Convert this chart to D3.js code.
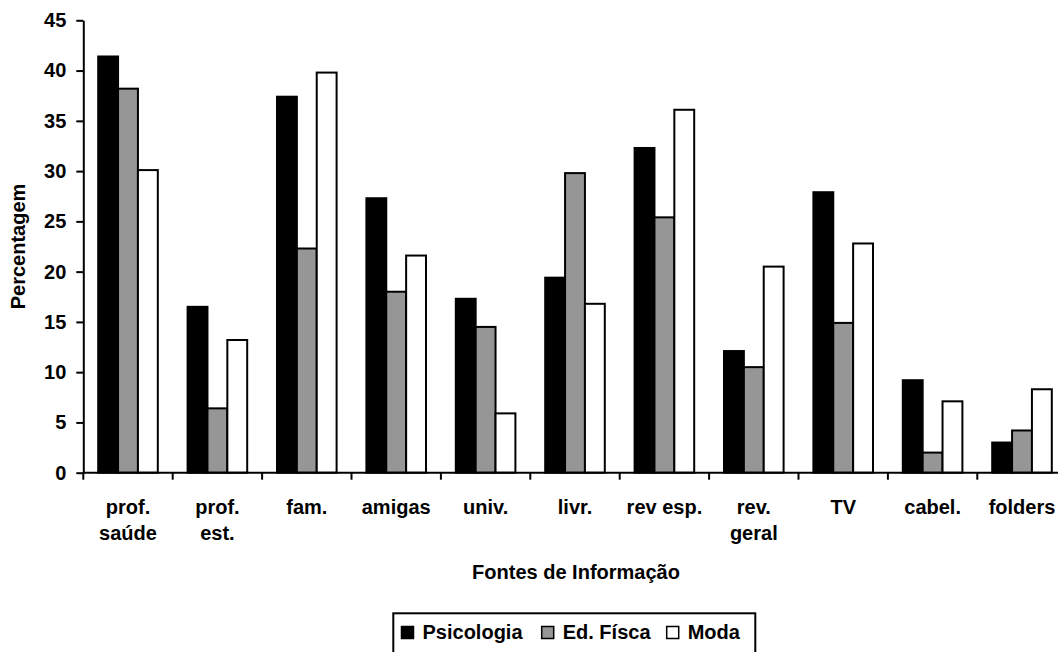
<!DOCTYPE html>
<html>
<head>
<meta charset="utf-8">
<script src="https://cdn.jsdelivr.net/npm/d3@7"></script>
<style>
  html, body { margin: 0; padding: 0; background: #fff; }
  svg { display: block; }
  text { font-family: "Liberation Sans", Arial, sans-serif; font-weight: bold; fill: #000; }
</style>
</head>
<body>
<svg id="chart" width="1058" height="652"></svg>
<script>
const categories = [
  ["prof.", "saúde"], ["prof.", "est."], ["fam."], ["amigas"], ["univ."],
  ["livr."], ["rev esp."], ["rev.", "geral"], ["TV"], ["cabel."], ["folders"]
];
const categoryKeys = categories.map(c => c.join(" "));
const seriesNames = ["Psicologia", "Ed. Físca", "Moda"];
const psicologia = [41.4, 16.5, 37.4, 27.3, 17.3, 19.4, 32.3, 12.1, 27.9, 9.2, 3.0];
const edFisica   = [38.2, 6.4, 22.3, 18.0, 14.5, 29.8, 25.4, 10.5, 14.9, 2.0, 4.2];
const moda       = [30.1, 13.2, 39.8, 21.6, 5.9, 16.8, 36.1, 20.5, 22.8, 7.1, 8.3];
const seriesValues = [psicologia, edFisica, moda];
const yTicks = [0, 5, 10, 15, 20, 25, 30, 35, 40, 45];
const seriesFill = ["#000000", "#969696", "#ffffff"];

const svg = d3.select("#chart");

const x = d3.scaleBand().domain(categoryKeys).range([83.3, 1066.7]).paddingInner(0).paddingOuter(0);
const xs = d3.scaleBand().domain(seriesNames).range([0, x.bandwidth()]).paddingInner(0).paddingOuter(0.75);
const y = d3.scaleLinear().domain([0, 45]).range([472.7, 20.3]);

// bars
seriesNames.forEach((s, si) => {
  svg.append("g").selectAll("rect")
    .data(categoryKeys.map((k, i) => ({ k, v: seriesValues[si][i] })))
    .join("rect")
    .attr("x", d => x(d.k) + xs(s))
    .attr("y", d => y(d.v))
    .attr("width", xs.bandwidth())
    .attr("height", d => y(0) - y(d.v))
    .attr("fill", seriesFill[si])
    .attr("stroke", "#000")
    .attr("stroke-width", 2);
});

// y axis
const yAxis = svg.append("g").attr("transform", "translate(83.3,0)")
  .call(d3.axisLeft(y).tickValues(yTicks).tickSize(7).tickPadding(10).tickSizeOuter(0));
yAxis.select(".domain").attr("stroke", "#000").attr("stroke-width", 2);
yAxis.selectAll(".tick line").attr("stroke", "#000").attr("stroke-width", 2);
yAxis.selectAll(".tick text").style("font-size", "20px").style("font-family", "'Liberation Sans', Arial, sans-serif").style("font-weight", "bold");

// x axis
const xTickPositions = categoryKeys.map(k => x(k)).concat([x.range()[1]]);
const xAxisG = svg.append("g").attr("transform", `translate(0,${y(0)})`);
xAxisG.append("line").attr("x1", x.range()[0]).attr("x2", x.range()[1]).attr("y1", 0).attr("y2", 0)
  .attr("stroke", "#000").attr("stroke-width", 2);
xAxisG.selectAll("line.tk").data(xTickPositions).join("line").attr("class", "tk")
  .attr("x1", d => d).attr("x2", d => d).attr("y1", 0).attr("y2", 7)
  .attr("stroke", "#000").attr("stroke-width", 2);

// category labels
const lbl = svg.append("g").selectAll("text").data(categories).join("text")
  .attr("text-anchor", "middle")
  .style("font-size", "20px")
  .attr("transform", (d, i) => `translate(${x(categoryKeys[i]) + x.bandwidth() / 2},514)`);
lbl.selectAll("tspan").data(d => d).join("tspan")
  .attr("x", 0).attr("y", (d, j) => j * 26).text(d => d);

// axis titles
svg.append("text").attr("x", 576).attr("y", 579).attr("text-anchor", "middle")
  .style("font-size", "20px").text("Fontes de Informação");
svg.append("text").attr("transform", `translate(25,${(y(0) + y(45)) / 2}) rotate(-90)`).attr("text-anchor", "middle")
  .style("font-size", "20px").text("Percentagem");

// legend
const lg = svg.append("g");
lg.append("rect").attr("x", 393.3).attr("y", 613.3).attr("width", 362).attr("height", 60)
  .attr("fill", "#fff").attr("stroke", "#000").attr("stroke-width", 2);
const legendX = [401.5, 541.7, 666.7];
seriesNames.forEach((s, i) => {
  lg.append("rect").attr("x", legendX[i]).attr("y", 626.5).attr("width", 12).attr("height", 12)
    .attr("fill", seriesFill[i]).attr("stroke", "#000").attr("stroke-width", 1.5);
  lg.append("text").attr("x", legendX[i] + 21).attr("y", 638.5).style("font-size", "20px").text(s);
});
</script>
</body>
</html>
